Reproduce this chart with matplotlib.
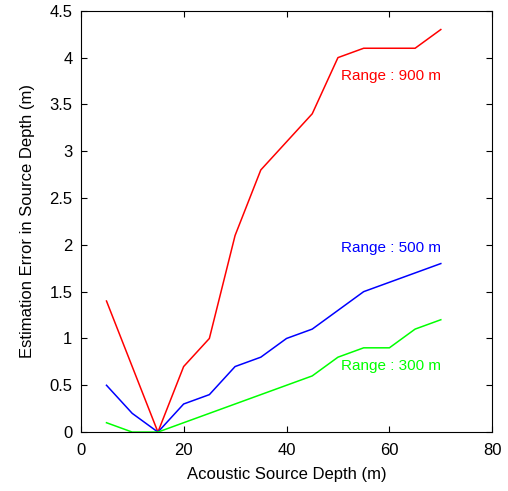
import matplotlib
matplotlib.use("Agg")
import matplotlib.pyplot as plt

plt.rcParams['font.family'] = ['Liberation Sans', 'DejaVu Sans']

# Source depth (m)
depth = [5, 10, 15, 20, 25, 30, 35, 40, 45, 50, 55, 60, 65, 70]

# Estimation error (m) for each range
err_900 = [1.4, 0.7, 0.0, 0.7, 1.0, 2.1, 2.8, 3.1, 3.4, 4.0, 4.1, 4.1, 4.1, 4.3]
err_500 = [0.5, 0.2, 0.0, 0.3, 0.4, 0.7, 0.8, 1.0, 1.1, 1.3, 1.5, 1.6, 1.7, 1.8]
err_300 = [0.1, 0.0, 0.0, 0.1, 0.2, 0.3, 0.4, 0.5, 0.6, 0.8, 0.9, 0.9, 1.1, 1.2]

fig = plt.figure(figsize=(5.08, 4.91), dpi=100)
ax = fig.add_axes([0.159, 0.120, 0.810, 0.858])

ax.plot(depth, err_900, color='#ff0000', lw=1.1)
ax.plot(depth, err_500, color='#0000ff', lw=1.1)
ax.plot(depth, err_300, color='#00ff00', lw=1.1)

ax.text(50.5, 3.8, "Range : 900 m", color='#ff0000', fontsize=11, va='center')
ax.text(50.5, 1.97, "Range : 500 m", color='#0000ff', fontsize=11, va='center')
ax.text(50.5, 0.71, "Range : 300 m", color='#00ff00', fontsize=11, va='center')

ax.set_xlim(0, 80)
ax.set_ylim(0, 4.5)
ax.set_xticks([0, 20, 40, 60, 80])
ax.set_yticks([0, 0.5, 1, 1.5, 2, 2.5, 3, 3.5, 4, 4.5])
ax.set_yticklabels(["0", "0.5", "1", "1.5", "2", "2.5", "3", "3.5", "4", "4.5"])
ax.tick_params(direction='in', top=True, right=True, labelsize=12, length=4)
ax.tick_params(axis='x', pad=8)
ax.tick_params(axis='y', pad=6)
ax.set_xlabel("Acoustic Source Depth (m)", fontsize=12, labelpad=6)
ax.set_ylabel("Estimation Error in Source Depth (m)", fontsize=12, labelpad=10)

plt.savefig("out.png", dpi=100)
